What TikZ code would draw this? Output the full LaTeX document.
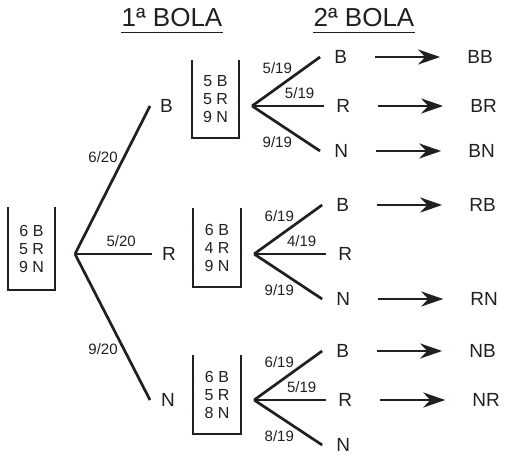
\documentclass[tikz,border=0pt]{standalone}
\usepackage{fontspec}
\setmainfont{Liberation Sans}
\usetikzlibrary{positioning,arrows.meta}
\definecolor{ink}{HTML}{231F20}

\begin{document}
\begin{tikzpicture}[x=1pt,y=-1pt,
    ball/.style={inner sep=0pt, text=ink, font=\fontsize{19}{22}\selectfont},
    prob/.style={inner sep=1pt, text=ink, font=\fontsize{15}{18}\selectfont},
    urnbox/.style={minimum width=47pt, minimum height=80pt, inner sep=0pt, align=center, text=ink, font=\fontsize{16}{18}\selectfont},
    urnwall/.style={draw=ink, line width=1.8pt},
    branch/.style={draw=ink, line width=2.7pt},
    result/.style={draw=ink, line width=2.7pt, shorten <=28pt, shorten >=27pt, -{Stealth[length=22pt, width=15pt, inset=7pt]}},
    title/.style={inner xsep=0pt, inner ysep=5pt, text=ink, font=\fontsize{26}{30}\selectfont},
    ]

    \useasboundingbox (0,0) rectangle (507,455);

    % column titles
    \node [title] (bola1) at (172,18) {1ª BOLA};
    \node [title] (bola2) at (364,18) {2ª BOLA};
    \draw [urnwall] (bola1.south west) -- (bola1.south east); % underline
    \draw [urnwall] (bola2.south west) -- (bola2.south east); % underline

    % urns
    \node [urnbox, minimum height=83pt] (urn) at (31.5,248.5) {6 B\\5 R\\9 N}; % first urn
    \node [urnbox, minimum height=78pt] (urnB) at (215.5,99) {5 B\\5 R\\9 N}; % urn after B
    \node [urnbox, minimum height=79pt] (urnR) at (217,247.5) {6 B\\4 R\\9 N}; % urn after R
    \node [urnbox, minimum height=79pt] (urnN) at (217,394.5) {6 B\\5 R\\8 N}; % urn after N
    \draw [urnwall] (urn.north west) -- (urn.south west) -- (urn.south east) -- (urn.north east);
    \draw [urnwall] (urnB.north west) -- (urnB.south west) -- (urnB.south east) -- (urnB.north east);
    \draw [urnwall] (urnR.north west) -- (urnR.south west) -- (urnR.south east) -- (urnR.north east);
    \draw [urnwall] (urnN.north west) -- (urnN.south west) -- (urnN.south east) -- (urnN.north east);

    % first draw
    \coordinate (v) at (75,254); % root vertex
    \coordinate [above right=148pt and 75pt of v] (vB); % tip to B
    \coordinate [right=77pt of v] (vR); % tip to R
    \coordinate [below right=146pt and 75pt of v] (vN); % tip to N
    \node [ball, right=10pt of vB] (B) {B};
    \node [ball, right=10pt of vR] (R) {R};
    \node [ball, right=11pt of vN] (N) {N};
    \draw [branch] (v) -- node [prob, pos=0.6, above left] (pB) {6/20} (vB);
    \draw [branch] (v) -- node [prob, pos=0.6, above=5pt] (pR) {5/20} (vR);
    \draw [branch] (v) -- node [prob, pos=0.6, below left] (pN) {9/20} (vN);

    % second draw vertices
    \coordinate [right=79pt of B] (Bv);
    \coordinate [right=78pt of R] (Rv);
    \coordinate [right=79pt of N] (Nv);

    % after B
    \coordinate [above right=49pt and 68pt of Bv] (Bvb);
    \coordinate [right=72pt of Bv] (Bvr);
    \coordinate [below right=45pt and 68pt of Bv] (Bvn);
    \node [ball, right=14pt of Bvb] (Bb) {B};
    \node [ball, right=12pt of Bvr] (Br) {R};
    \node [ball, right=14pt of Bvn] (Bn) {N};
    \draw [branch] (Bv) -- node [prob, pos=0.62, above left] (pBb) {5/19} (Bvb);
    \draw [branch] (Bv) -- node [prob, pos=0.66, above=5pt] (pBr) {5/19} (Bvr);
    \draw [branch] (Bv) -- node [prob, pos=0.62, below left] (pBn) {9/19} (Bvn);

    % after R
    \coordinate [above right=49pt and 68pt of Rv] (Rvb);
    \coordinate [right=72pt of Rv] (Rvr);
    \coordinate [below right=45pt and 68pt of Rv] (Rvn);
    \node [ball, right=14pt of Rvb] (Rb) {B};
    \node [ball, right=12pt of Rvr] (Rr) {R};
    \node [ball, right=14pt of Rvn] (Rn) {N};
    \draw [branch] (Rv) -- node [prob, pos=0.62, above left] (pRb) {6/19} (Rvb);
    \draw [branch] (Rv) -- node [prob, pos=0.66, above=5pt] (pRr) {4/19} (Rvr);
    \draw [branch] (Rv) -- node [prob, pos=0.62, below left] (pRn) {9/19} (Rvn);

    % after N
    \coordinate [above right=49pt and 68pt of Nv] (Nvb);
    \coordinate [right=72pt of Nv] (Nvr);
    \coordinate [below right=45pt and 68pt of Nv] (Nvn);
    \node [ball, right=14pt of Nvb] (Nb) {B};
    \node [ball, right=12pt of Nvr] (Nr) {R};
    \node [ball, right=14pt of Nvn] (Nn) {N};
    \draw [branch] (Nv) -- node [prob, pos=0.62, above left] (pNb) {6/19} (Nvb);
    \draw [branch] (Nv) -- node [prob, pos=0.66, above=5pt] (pNr) {5/19} (Nvr);
    \draw [branch] (Nv) -- node [prob, pos=0.62, below left] (pNn) {8/19} (Nvn);

    % outcomes
    \node [ball, right=120pt of Bb] (BB) {BB};
    \node [ball, right=120pt of Br] (BR) {BR};
    \node [ball, right=120pt of Bn] (BN) {BN};
    \node [ball, right=120pt of Rb] (RB) {RB};
    \node [ball, right=120pt of Rn] (RN) {RN};
    \node [ball, right=120pt of Nb] (NB) {NB};
    \node [ball, right=120pt of Nr] (NR) {NR};
    \draw [result] (Bb) -- (BB);
    \draw [result] (Br) -- (BR);
    \draw [result] (Bn) -- (BN);
    \draw [result] (Rb) -- (RB);
    \draw [result] (Rn) -- (RN);
    \draw [result] (Nb) -- (NB);
    \draw [result] (Nr) -- (NR);
\end{tikzpicture}
\end{document}
